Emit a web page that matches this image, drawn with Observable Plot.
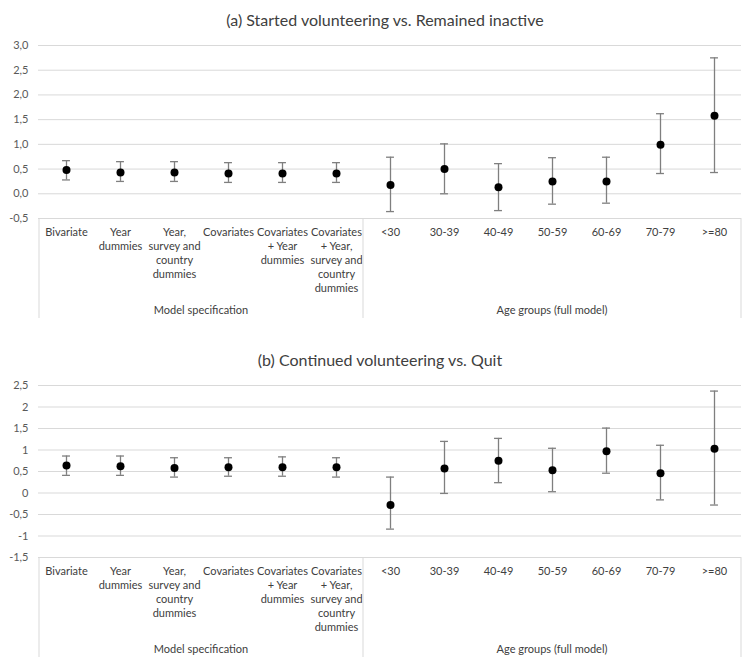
<!DOCTYPE html>
<html>
<head>
<meta charset="utf-8">
<script src="https://cdn.jsdelivr.net/npm/d3@7"></script>
<script src="https://cdn.jsdelivr.net/npm/@observablehq/plot@0.6"></script>
<style>
  body { margin: 0; background: white; font-family: Lato, "Open Sans", sans-serif; }
  .title { width: 752px; box-sizing: border-box; text-align: center; color: #404040; font-size: 16px; }
  #ta { height: 36px; padding-top: 10px; padding-left: 18px; line-height: 20px; }
  #tb { height: 58px; padding-top: 32px; padding-left: 8px; line-height: 20px; }
</style>
</head>
<body>
<div class="title" id="ta">(a) Started volunteering vs. Remained inactive</div>
<div id="pa"></div>
<div class="title" id="tb">(b) Continued volunteering vs. Quit</div>
<div id="pb"></div>
<script>
const categories = ["Bivariate", "Year dummies", "Year, survey and country dummies", "Covariates",
  "Covariates + Year dummies", "Covariates + Year, survey and country dummies",
  "<30", "30-39", "40-49", "50-59", "60-69", "70-79", ">=80"];
const categoryLabels = ["Bivariate", "Year\ndummies", "Year,\nsurvey and\ncountry\ndummies", "Covariates",
  "Covariates\n+ Year\ndummies", "Covariates\n+ Year,\nsurvey and\ncountry\ndummies",
  "<30", "30-39", "40-49", "50-59", "60-69", "70-79", ">=80"];
const groupNames = ["Model specification", "Age groups (full model)"];
const groupSizes = [6, 7];

// Panel (a)
const estA  = [0.48, 0.43, 0.43, 0.41, 0.41, 0.41, 0.18, 0.50, 0.13, 0.25, 0.25, 0.99, 1.58];
const lowA  = [0.28, 0.25, 0.25, 0.23, 0.23, 0.23, -0.36, 0.00, -0.34, -0.21, -0.19, 0.41, 0.43];
const highA = [0.67, 0.65, 0.65, 0.63, 0.63, 0.63, 0.74, 1.01, 0.61, 0.73, 0.74, 1.62, 2.75];
const ticksA = [-0.5, 0, 0.5, 1, 1.5, 2, 2.5, 3];
const tickLabelsA = ["-0,5", "0,0", "0,5", "1,0", "1,5", "2,0", "2,5", "3,0"];

// Panel (b)
const estB  = [0.64, 0.62, 0.58, 0.60, 0.60, 0.60, -0.28, 0.57, 0.75, 0.53, 0.97, 0.46, 1.03];
const lowB  = [0.41, 0.41, 0.37, 0.39, 0.39, 0.37, -0.84, -0.01, 0.24, 0.03, 0.46, -0.16, -0.28];
const highB = [0.86, 0.86, 0.82, 0.82, 0.84, 0.82, 0.37, 1.20, 1.27, 1.04, 1.51, 1.11, 2.37];
const ticksB = [-1.5, -1, -0.5, 0, 0.5, 1, 1.5, 2, 2.5];
const tickLabelsB = ["-1,5", "-1", "-0,5", "0", "0,5", "1", "1,5", "2", "2,5"];

function panel(est, low, high, ticks, tickLabels, height) {
  const data = categories.map((c, i) => ({cat: c, est: est[i], low: low[i], high: high[i]}));
  const marginTop = 9, marginBottom = 100, marginLeft = 38, marginRight = 11;
  const bw = (752 - marginLeft - marginRight) / categories.length;
  const capInset = (bw - 8) / 2;
  const plot = Plot.plot({
    width: 752, height, marginTop, marginBottom, marginLeft, marginRight,
    style: {fontFamily: "Lato, 'Open Sans', sans-serif", background: "white", overflow: "visible"},
    x: {domain: categories, padding: 0, axis: null},
    y: {domain: [ticks[0], ticks[ticks.length - 1]], axis: null},
    marks: [
      Plot.ruleY(ticks, {stroke: "#d9d9d9", strokeWidth: 1}),
      Plot.axisY({ticks, tickFormat: d => tickLabels[ticks.indexOf(d)], tickSize: 0, tickPadding: 10,
        fontSize: 11, color: "#595959", label: null}),
      Plot.axisX({tickFormat: d => categoryLabels[categories.indexOf(d)], tickSize: 0, tickPadding: 8,
        fontSize: 11, lineHeight: 1.27, color: "#404040", label: null}),
      Plot.ruleX(data, {x: "cat", y1: "low", y2: "high", stroke: "#7f7f7f", strokeWidth: 1.3}),
      Plot.tickY(data, {x: "cat", y: "low", stroke: "#7f7f7f", strokeWidth: 1.3, insetLeft: capInset, insetRight: capInset}),
      Plot.tickY(data, {x: "cat", y: "high", stroke: "#7f7f7f", strokeWidth: 1.3, insetLeft: capInset, insetRight: capInset}),
      Plot.dot(data, {x: "cat", y: "est", r: 4, fill: "black", stroke: "none"})
    ]
  });
  // category box and group labels in the bottom margin
  const x = plot.scale("x");
  const svg = d3.select(plot);
  const y0 = height - marginBottom;
  const g = svg.append("g");
  let start = 0;
  const edges = [x.apply(categories[0])];
  groupSizes.forEach((n, gi) => {
    const a = x.apply(categories[start]);
    const b = x.apply(categories[start + n - 1]) + x.bandwidth;
    edges.push(b);
    g.append("text").attr("x", (a + b) / 2).attr("y", height - 7)
      .attr("text-anchor", "middle").attr("dominant-baseline", "middle")
      .attr("font-size", 11).attr("fill", "#404040").text(groupNames[gi]);
    start += n;
  });
  edges.forEach(e => {
    g.append("line").attr("x1", e).attr("x2", e).attr("y1", y0).attr("y2", height)
      .attr("stroke", "#d9d9d9").attr("stroke-width", 1);
  });
  return plot;
}

document.getElementById("pa").append(panel(estA, lowA, highA, ticksA, tickLabelsA, 282));
document.getElementById("pb").append(panel(estB, lowB, highB, ticksB, tickLabelsB, 281));
</script>
</body>
</html>
